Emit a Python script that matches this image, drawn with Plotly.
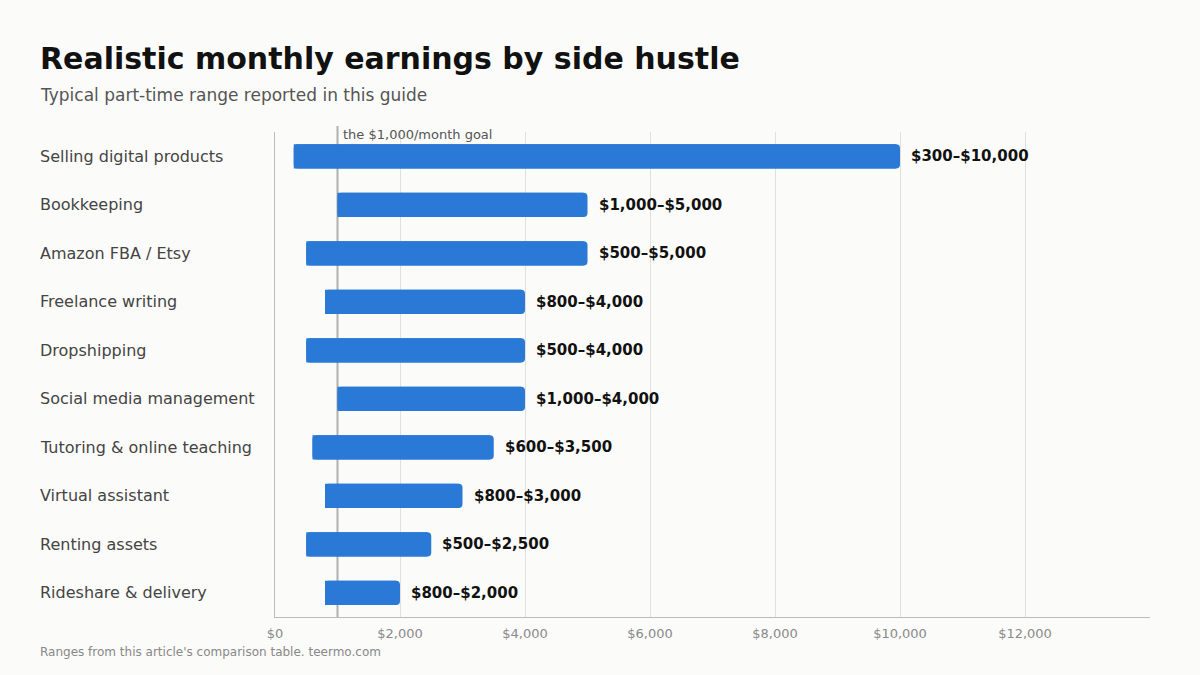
import plotly.graph_objects as go

categories = ["Selling digital products", "Bookkeeping", "Amazon FBA / Etsy", "Freelance writing",
              "Dropshipping", "Social media management", "Tutoring & online teaching",
              "Virtual assistant", "Renting assets", "Rideshare & delivery"]
low = [300, 1000, 500, 800, 500, 1000, 600, 800, 500, 800]
high = [10000, 5000, 5000, 4000, 4000, 4000, 3500, 3000, 2500, 2000]
goal = 1000
tick_vals = [0, 2000, 4000, 6000, 8000, 10000, 12000]
tick_text = ["$0", "$2,000", "$4,000", "$6,000", "$8,000", "$10,000", "$12,000"]

FONT = "DejaVu Sans"
BG = "#FBFBF9"
BAR = "#2A79D6"
L, R, T, B = 275, 50, 132, 58
W, H = 1200, 675
pw = W - L - R
ph = H - T - B
XMAX = 14000
RADIUS_PX = 4

def px_x(x):
    return (x - L) / pw

def px_y(y):
    return (H - B - y) / ph

spans = [h - l for l, h in zip(low, high)]
radius_units = RADIUS_PX * XMAX / pw

fig = go.Figure()
# full bar, rounded at the far end
fig.add_trace(go.Bar(
    y=categories, x=spans, base=low, orientation="h", width=0.5,
    marker=dict(color=BAR, cornerradius=RADIUS_PX, line=dict(width=0)), hoverinfo="skip",
))
# square off the starting end (stops where the far-end rounding begins)
fig.add_trace(go.Bar(
    y=categories, x=[s - radius_units for s in spans], base=low, orientation="h", width=0.5,
    marker=dict(color=BAR, line=dict(width=0)), hoverinfo="skip",
))

ann = []
for c, l, h in zip(categories, low, high):
    ann.append(dict(x=h, y=c, xref="x", yref="y", text=f"<b>${l:,}–${h:,}</b>",
                    showarrow=False, xanchor="left", yanchor="middle", xshift=9,
                    font=dict(family=FONT, size=15, color="#111")))
    ann.append(dict(x=px_x(38), y=c, xref="paper", yref="y", text=c,
                    showarrow=False, xanchor="left", yanchor="middle",
                    font=dict(family=FONT, size=16, color="#444")))

ann.append(dict(x=goal, y=px_y(134), xref="x", yref="paper",
                text="the $1,000/month goal", showarrow=False, xanchor="left", yanchor="middle",
                xshift=3, font=dict(family=FONT, size=13, color="#555")))
ann.append(dict(x=px_x(38), y=px_y(58), xref="paper", yref="paper", xanchor="left", yanchor="middle",
                text="<b>Realistic monthly earnings by side hustle</b>", showarrow=False,
                font=dict(family=FONT, size=30, color="#111")))
ann.append(dict(x=px_x(38), y=px_y(95), xref="paper", yref="paper", xanchor="left", yanchor="middle",
                text="Typical part-time range reported in this guide", showarrow=False,
                font=dict(family=FONT, size=17, color="#555")))
ann.append(dict(x=px_x(38), y=px_y(652), xref="paper", yref="paper", xanchor="left", yanchor="middle",
                text="Ranges from this article's comparison table. teermo.com", showarrow=False,
                font=dict(family=FONT, size=12, color="#888")))

fig.update_layout(
    width=W, height=H,
    margin=dict(l=L, r=R, t=T, b=B, autoexpand=False),
    paper_bgcolor=BG, plot_bgcolor=BG,
    showlegend=False, barmode="overlay",
    annotations=ann,
    shapes=[dict(type="line", x0=goal, x1=goal, xref="x", yref="paper", y0=0, y1=px_y(126),
                 line=dict(color="#B0B0AC", width=2), layer="below")],
    xaxis=dict(range=[0, XMAX], tickvals=tick_vals, ticktext=tick_text,
               showgrid=True, gridcolor="#E0E0DC", gridwidth=1, zeroline=False,
               showline=True, linecolor="#BDBDB8", linewidth=1, ticks="",
               ticklabelstandoff=4,
               tickfont=dict(family=FONT, size=13, color="#8A8A8A"), fixedrange=True),
    yaxis=dict(categoryorder="array", categoryarray=categories[::-1], range=[-0.5, 9.5],
               showticklabels=False, showgrid=False, zeroline=False,
               showline=True, linecolor="#BDBDB8", linewidth=1, ticks="", fixedrange=True),
    font=dict(family=FONT),
)

fig.write_html("out.html")
